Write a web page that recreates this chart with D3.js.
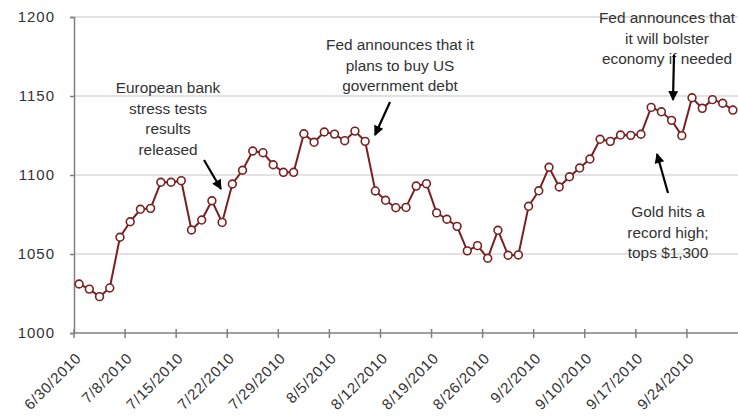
<!DOCTYPE html>
<html>
<head>
<meta charset="utf-8">
<script src="https://cdn.jsdelivr.net/npm/d3@7"></script>
<style>
  html, body { margin: 0; padding: 0; background: #fff; }
  svg { display: block; }
  text { font-family: "Liberation Sans", Arial, sans-serif; fill: #333; }
</style>
</head>
<body>
<svg id="chart" width="738" height="419"></svg>
<script>
const dates = [
  "6/30/2010",
  "7/1/2010","7/2/2010","7/6/2010","7/7/2010","7/8/2010","7/9/2010","7/12/2010","7/13/2010","7/14/2010","7/15/2010",
  "7/16/2010","7/19/2010","7/20/2010","7/21/2010","7/22/2010","7/23/2010","7/26/2010","7/27/2010","7/28/2010","7/29/2010","7/30/2010",
  "8/2/2010","8/3/2010","8/4/2010","8/5/2010","8/6/2010","8/9/2010","8/10/2010","8/11/2010","8/12/2010","8/13/2010",
  "8/16/2010","8/17/2010","8/18/2010","8/19/2010","8/20/2010","8/23/2010","8/24/2010","8/25/2010","8/26/2010","8/27/2010",
  "8/30/2010","8/31/2010","9/1/2010","9/2/2010","9/3/2010","9/7/2010","9/8/2010","9/9/2010","9/10/2010",
  "9/13/2010","9/14/2010","9/15/2010","9/16/2010","9/17/2010","9/20/2010","9/21/2010","9/22/2010","9/23/2010","9/24/2010",
  "9/27/2010","9/28/2010","9/29/2010","9/30/2010"
];
const values = [
  1031, 1027.8, 1023, 1028.5, 1060.6, 1070.4, 1078.3, 1078.9, 1095.4, 1095.4, 1096.4,
  1065.2, 1071.5, 1083.7, 1070, 1094.3, 1103, 1115.2, 1114.1, 1106.5, 1101.7, 1101.7,
  1126.1, 1120.7, 1127.2, 1125.9, 1121.7, 1127.8, 1121.3, 1089.9, 1084, 1079.3,
  1079.5, 1093, 1094.5, 1076, 1072, 1067.5, 1052, 1055.3, 1047.3, 1065,
  1049.2, 1049.4, 1080.2, 1090, 1104.9, 1092.4, 1098.9, 1104.4, 1110.1,
  1122.6, 1121.3, 1125.3, 1125.1, 1125.8, 1142.8, 1140, 1134.6, 1124.9, 1148.9,
  1142.2, 1147.7, 1145.4, 1141.1
];
const yTicks = [1000, 1050, 1100, 1150, 1200];
const xTickLabels = ["6/30/2010","7/8/2010","7/15/2010","7/22/2010","7/29/2010","8/5/2010","8/12/2010",
  "8/19/2010","8/26/2010","9/2/2010","9/10/2010","9/17/2010","9/24/2010"];

const annotations = [
  { lines: ["European bank", "stress tests", "results", "released"], x: 168, y: 93, from: [204, 160], to: [221, 189] },
  { lines: ["Fed announces that it", "plans to buy US", "government debt"], x: 400, y: 50, from: [390, 102], to: [375, 135] },
  { lines: ["Fed announces that", "it will bolster", "economy if needed"], x: 667, y: 23, from: [674, 55], to: [673, 100] },
  { lines: ["Gold hits a", "record high;", "tops $1,300"], x: 668, y: 217, from: [668, 193], to: [657, 154] }
];

const svg = d3.select("#chart");
const mLeft = 74, mRight = 738, mTop = 17, mBottom = 333;

const x = d3.scaleBand().domain(dates).range([mLeft, mRight]).padding(0);
const y = d3.scaleLinear().domain([1000, 1200]).range([mBottom, mTop]);

// gridlines
svg.append("g").selectAll("line").data(yTicks.filter(d => d > 1000)).join("line")
  .attr("x1", mLeft).attr("x2", mRight)
  .attr("y1", d => y(d)).attr("y2", d => y(d))
  .attr("stroke", "#d9d9d9").attr("stroke-width", 1.5);

// y axis
const yAxis = svg.append("g").attr("transform", `translate(${mLeft},0)`)
  .call(d3.axisLeft(y).tickValues(yTicks).tickSize(4).tickPadding(15).tickFormat(d3.format("d")));
yAxis.select(".domain").attr("stroke", "#808080").attr("stroke-width", 1.5);
yAxis.selectAll(".tick line").attr("stroke", "#808080").attr("stroke-width", 1.5);
yAxis.selectAll(".tick text").attr("font-size", 15).attr("fill", "#333")
  .attr("letter-spacing", 1)
  .attr("font-family", "Liberation Sans, Arial, sans-serif");

// x axis
const xg = svg.append("g");
xg.append("line").attr("x1", mLeft).attr("x2", mRight).attr("y1", mBottom).attr("y2", mBottom)
  .attr("stroke", "#808080").attr("stroke-width", 1.5);
xg.selectAll("line.tk").data(xTickLabels).join("line").attr("class", "tk")
  .attr("x1", d => x(d)).attr("x2", d => x(d))
  .attr("y1", mBottom - 4).attr("y2", mBottom + 5)
  .attr("stroke", "#808080").attr("stroke-width", 1.5);
xg.selectAll("text").data(xTickLabels).join("text")
  .attr("transform", d => `translate(${x(d) + x.bandwidth() / 2 + 3},${mBottom + 26}) rotate(-45)`)
  .attr("text-anchor", "end")
  .attr("font-size", 15)
  .attr("letter-spacing", 0.7)
  .attr("fill", "#333")
  .text(d => d);

// line
const pts = dates.map((d, i) => [x(d) + x.bandwidth() / 2, y(values[i])]);
svg.append("path").datum(pts)
  .attr("d", d3.line())
  .attr("fill", "none").attr("stroke", "#7a2020").attr("stroke-width", 2);
svg.append("g").selectAll("circle").data(pts).join("circle")
  .attr("cx", d => d[0]).attr("cy", d => d[1]).attr("r", 3.9)
  .attr("fill", "#fff").attr("stroke", "#7a2020").attr("stroke-width", 1.6);

// arrowhead
svg.append("defs").append("marker")
  .attr("id", "arrow").attr("viewBox", "0 0 10 10").attr("refX", 9).attr("refY", 5)
  .attr("markerWidth", 5).attr("markerHeight", 4.5).attr("orient", "auto")
  .append("path").attr("d", "M0,0 L10,5 L0,10 z").attr("fill", "#000");

// annotations
annotations.forEach(a => {
  const t = svg.append("text").attr("text-anchor", "middle").attr("font-size", 15.4).attr("fill", "#222");
  a.lines.forEach((l, i) => {
    t.append("tspan").attr("x", a.x).attr("y", a.y + i * 20.6).text(l);
  });
  svg.append("line").attr("x1", a.from[0]).attr("y1", a.from[1]).attr("x2", a.to[0]).attr("y2", a.to[1])
    .attr("stroke", "#000").attr("stroke-width", 2.2).attr("marker-end", "url(#arrow)");
});
</script>
</body>
</html>
